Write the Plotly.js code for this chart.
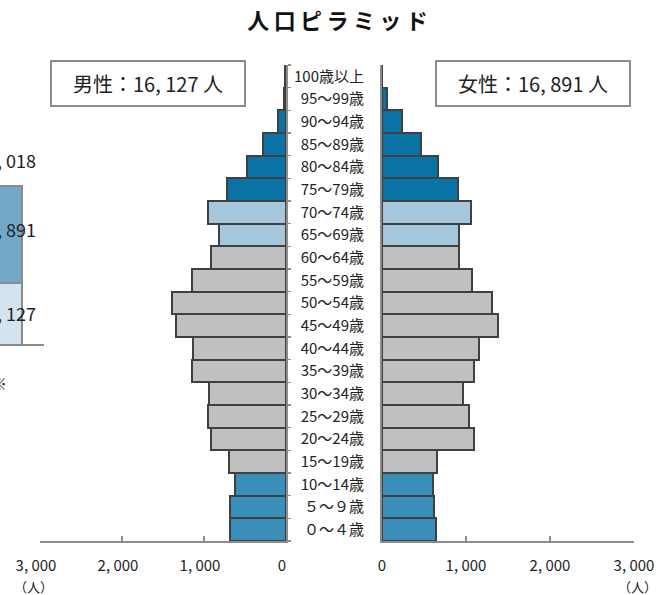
<!DOCTYPE html>
<html>
<head>
<meta charset="utf-8">
<script src="https://cdn.plot.ly/plotly-3.0.1.min.js"></script>
<style>html,body{margin:0;padding:0;background:#fff;}#chart{width:668px;height:595px;}</style>
</head>
<body>
<div id="chart"></div>
<script>
// ---- data ----
const ages = ["０～４歳","５～９歳","10～14歳","15～19歳","20～24歳","25～29歳","30～34歳","35～39歳","40～44歳","45～49歳","50～54歳","55～59歳","60～64歳","65～69歳","70～74歳","75～79歳","80～84歳","85～89歳","90～94歳","95～99歳","100歳以上"];
const male   = [680, 680, 620, 690, 920, 955, 935, 1150, 1140, 1340, 1385, 1150, 920, 820, 950, 725, 470, 275, 95, 25, 10];
const female = [645, 615, 605, 650, 1090, 1030, 965, 1095, 1150, 1385, 1305, 1075, 915, 915, 1060, 900, 665, 465, 235, 60, 5];
const tickVals = [0, 1000, 2000, 3000];
const tickText = ["0", "1, 000", "2, 000", "3, 000"];
const maleTotal = 16127;
const femaleTotal = 16891;
const grandTotal = 33018;

// ---- styling ----
const W = 668, H = 595;
const FONT = '"Noto Sans CJK JP", "Noto Sans", sans-serif';
function colorFor(i) {
  if (i <= 2) return '#3A8FB9';
  if (i <= 12) return '#C0C0C0';
  if (i <= 14) return '#A6C7DB';
  return '#0A73A5';
}
const colors = ages.map((_, i) => colorFor(i));
const fmt = n => { const s = String(n); return s.length > 3 ? s.slice(0, s.length - 3) + ', ' + s.slice(-3) : s; };
const px = v => v / W;
const py = v => 1 - v / H;

const barLine = {color: '#404040', width: 2};
const traces = [
  {type: 'bar', orientation: 'h', x: male, y: ages, xaxis: 'x', yaxis: 'y',
   marker: {color: colors, line: barLine}, hoverinfo: 'x+y'},
  {type: 'bar', orientation: 'h', x: female, y: ages, xaxis: 'x2', yaxis: 'y2',
   marker: {color: colors, line: barLine}, hoverinfo: 'x+y'},
  {type: 'bar', x: [0], y: [maleTotal], width: [1], xaxis: 'x3', yaxis: 'y3',
   marker: {color: '#D4E3EE', line: {color: '#8a8a8a', width: 1.5}}},
  {type: 'bar', x: [0], y: [femaleTotal], width: [1], xaxis: 'x3', yaxis: 'y3',
   marker: {color: '#72A9C9', line: {color: '#8a8a8a', width: 1.5}}}
];

const yDom = [(H - 541) / H, (H - 65) / H];
const axCommon = {showgrid: false, zeroline: false, showline: true, linecolor: '#8c8c8c', linewidth: 2,
  ticks: 'inside', ticklen: 5, tickwidth: 2, tickcolor: '#8c8c8c', tickvals: tickVals, ticktext: tickText,
  tickfont: {size: 15, color: '#222', family: FONT}, ticklabelstandoff: 10, fixedrange: true};

const layout = {
  width: W, height: H,
  margin: {l: 0, r: 0, t: 0, b: 0, pad: 0},
  paper_bgcolor: '#fff', plot_bgcolor: 'rgba(0,0,0,0)',
  showlegend: false, barmode: 'stack', bargap: 0,
  font: {family: FONT, color: '#222'},
  title: {text: '<b>人\u2009口\u2009ピ\u2009ラ\u2009ミ\u2009ッ\u2009ド</b>', x: 337.5 / W, xanchor: 'center',
          y: 1 - 21 / H, yanchor: 'middle', yref: 'container', font: {size: 22, color: '#111', family: FONT}},
  xaxis: Object.assign({}, axCommon, {domain: [px(40), px(286)], range: [3000, 0], anchor: 'y', ticklabelshift: 4}),
  xaxis2: Object.assign({}, axCommon, {domain: [px(382), px(634)], range: [0, 3000], anchor: 'y2'}),
  yaxis: {domain: yDom, anchor: 'x', side: 'right', type: 'category', categoryorder: 'array', categoryarray: ages,
          range: [-0.5, ages.length - 0.5], showline: true, linecolor: '#8c8c8c', linewidth: 2,
          ticks: 'outside', tickson: 'boundaries', ticklen: 3, tickcolor: '#8c8c8c', tickwidth: 1.5,
          showticklabels: false, showgrid: false, zeroline: false, fixedrange: true},
  yaxis2: {domain: yDom, anchor: 'x2', side: 'left', type: 'category', categoryorder: 'array', categoryarray: ages,
          range: [-0.5, ages.length - 0.5], showline: true, linecolor: '#8c8c8c', linewidth: 2,
          ticks: '', ticklabelstandoff: 13, tickfont: {size: 15, color: '#222', family: FONT},
          showgrid: false, zeroline: false, fixedrange: true},
  xaxis3: {domain: [0, px(44)], range: [-0.3, 1.3], anchor: 'y3', showline: true, linecolor: '#8c8c8c', linewidth: 1.5,
           ticks: 'inside', ticklen: 4, tickvals: [1.3], tickcolor: '#8c8c8c', showticklabels: false,
           showgrid: false, zeroline: false, fixedrange: true},
  yaxis3: {domain: [(H - 344) / H, (H - 150) / H], range: [5505, 39287], anchor: 'x3', visible: false, fixedrange: true},
  annotations: [
    {xref: 'paper', yref: 'paper', x: px(147.5), y: py(83.5), xanchor: 'center', yanchor: 'middle',
     text: '男性：' + fmt(maleTotal) + ' 人', showarrow: false, font: {size: 20, color: '#222', family: FONT},
     bordercolor: '#8c8c8c', borderwidth: 2, borderpad: 2, width: 188, height: 39, bgcolor: '#fff'},
    {xref: 'paper', yref: 'paper', x: px(533), y: py(83.5), xanchor: 'center', yanchor: 'middle',
     text: '女性：' + fmt(femaleTotal) + ' 人', showarrow: false, font: {size: 20, color: '#222', family: FONT},
     bordercolor: '#8c8c8c', borderwidth: 2, borderpad: 2, width: 188, height: 39, bgcolor: '#fff'},
    {xref: 'paper', yref: 'paper', x: px(33), y: py(586), xanchor: 'center', yanchor: 'middle',
     text: '（人）', showarrow: false, font: {size: 13, color: '#222', family: FONT}},
    {xref: 'paper', yref: 'paper', x: px(637), y: py(586), xanchor: 'center', yanchor: 'middle',
     text: '（人）', showarrow: false, font: {size: 13, color: '#222', family: FONT}},
    {xref: 'paper', yref: 'paper', x: px(38), y: py(160), xanchor: 'right', yanchor: 'middle',
     text: fmt(grandTotal), showarrow: false, font: {size: 18, color: '#222', family: FONT}},
    {xref: 'paper', yref: 'paper', x: px(38), y: py(229), xanchor: 'right', yanchor: 'middle',
     text: fmt(femaleTotal), showarrow: false, font: {size: 18, color: '#222', family: FONT}},
    {xref: 'paper', yref: 'paper', x: px(38), y: py(313), xanchor: 'right', yanchor: 'middle',
     text: fmt(maleTotal), showarrow: false, font: {size: 18, color: '#222', family: FONT}},
    {xref: 'paper', yref: 'paper', x: px(9), y: py(383), xanchor: 'right', yanchor: 'middle',
     text: '※', showarrow: false, font: {size: 16, color: '#222', family: FONT}}
  ]
};

Plotly.newPlot('chart', traces, layout, {displayModeBar: false, staticPlot: true});
</script>
</body>
</html>
